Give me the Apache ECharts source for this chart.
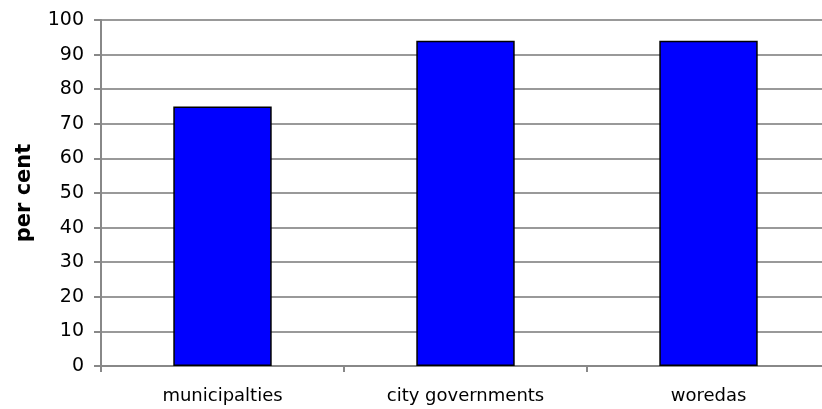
<!DOCTYPE html>
<html>
<head>
<meta charset="utf-8">
<script src="https://cdn.jsdelivr.net/npm/echarts@6/dist/echarts.min.js"></script>
<style>
  html, body { margin: 0; padding: 0; background: #fff; }
  #chart { width: 822px; height: 409px; }
</style>
</head>
<body>
<div id="chart"></div>
<script>
// Categories and values (per cent)
const categories = ['municipalties', 'city governments', 'woredas'];
const values = [75, 94, 94];
const yTicks = { min: 0, max: 100, interval: 10 };
const yTitle = 'per cent';

const FONT = '"DejaVu Sans", Verdana, sans-serif';
const chart = echarts.init(document.getElementById('chart'), null, { renderer: 'canvas' });

chart.setOption({
  animation: false,
  backgroundColor: '#ffffff',
  // plot area runs past the right edge of the canvas, so the last column is clipped
  grid: { left: 101, top: 20, width: 729, bottom: 43, containLabel: false, outerBoundsMode: 'none' },
  xAxis: {
    type: 'category',
    data: categories,
    boundaryGap: true,
    axisLine: { show: true, lineStyle: { color: '#888888', width: 2 } },
    axisTick: { show: true, alignWithLabel: false, length: 6, lineStyle: { color: '#888888', width: 2 } },
    axisLabel: { color: '#000', fontFamily: FONT, fontSize: 18, margin: 21 }
  },
  yAxis: {
    type: 'value',
    min: yTicks.min,
    max: yTicks.max,
    interval: yTicks.interval,
    name: yTitle,
    nameLocation: 'middle',
    nameGap: 66,
    nameRotate: 90,
    nameTextStyle: { color: '#000', fontFamily: FONT, fontSize: 21, fontWeight: 'bold' },
    axisLine: { show: true, lineStyle: { color: '#888888', width: 2 } },
    axisTick: { show: true, length: 7, lineStyle: { color: '#888888', width: 2 } },
    axisLabel: { color: '#000', fontFamily: FONT, fontSize: 19, margin: 17 },
    splitLine: { show: true, lineStyle: { color: '#999999', width: 2 } }
  },
  series: [{
    type: 'bar',
    data: values,
    barWidth: '40.5%',
    itemStyle: { color: '#0000ff', borderColor: '#000000', borderWidth: 1.5 }
  }]
});
</script>
</body>
</html>
